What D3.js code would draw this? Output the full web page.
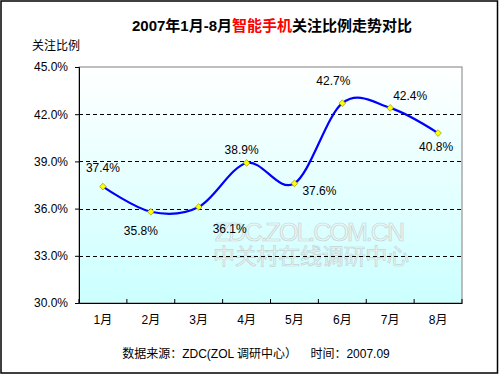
<!DOCTYPE html>
<html><head><meta charset="utf-8">
<script src="https://cdn.jsdelivr.net/npm/d3@7/dist/d3.min.js"></script>
<style>body{margin:0;background:#fff}svg{display:block}</style>
</head><body>
<svg id="c" width="500" height="375"></svg>
<script>
const months = ["1月","2月","3月","4月","5月","6月","7月","8月"];
const values = [37.4, 35.8, 36.1, 38.9, 37.6, 42.7, 42.4, 40.8];
const yTicks = [30, 33, 36, 39, 42, 45];
const labelDx = [0, -10, 31, -5, 25, -9, 20, -2];
const labelDy = [-15, 23, 26, -9, 12, -18, -8, 18];

const F = "'Liberation Sans', Arial, 'Noto Sans CJK SC', sans-serif";
const svg = d3.select("#c");
const L = 79, R = 462, T = 67, B = 303;
const x = d3.scaleBand().domain(months).range([L, R]);
const y = d3.scaleLinear().domain([30, 45]).range([B, T]);

const defs = svg.append("defs");
const g = defs.append("linearGradient").attr("id","bg").attr("x1",0).attr("y1",0).attr("x2",0).attr("y2",1);
g.append("stop").attr("offset","0%").attr("stop-color","#ffffff");
g.append("stop").attr("offset","100%").attr("stop-color","#ccffff");

svg.append("rect").attr("x",1).attr("y",1).attr("width",496.5).attr("height",372)
  .attr("fill","#fff").attr("stroke","#000").attr("stroke-width",1.5);

svg.append("rect").attr("x",L).attr("y",T).attr("width",R-L).attr("height",B-T)
  .attr("fill","url(#bg)").attr("stroke","#808080").attr("stroke-width",1);

// watermark
const wm = svg.append("g").attr("fill","#eaf8f8").attr("stroke","#c4d4d4").attr("stroke-width",0.7)
  .attr("font-family",F);
wm.append("text").attr("x",310).attr("y",241).attr("text-anchor","middle").attr("font-size",25)
  .attr("textLength",190).text("ZDC.ZOL.COM.CN");
wm.append("text").attr("x",311).attr("y",264).attr("text-anchor","middle").attr("font-size",22)
  .attr("font-family","'Noto Sans CJK SC', sans-serif").attr("textLength",196).text("中关村在线调研中心");

// grid
svg.append("g").selectAll("line").data(yTicks.filter(d=>d>30 && d<45)).join("line")
  .attr("x1",L).attr("x2",R).attr("y1",d=>Math.round(y(d))+0.5).attr("y2",d=>Math.round(y(d))+0.5)
  .attr("stroke","#000").attr("stroke-dasharray","4,3").attr("stroke-width",1);

// axes
const yAxis = svg.append("g").attr("transform",`translate(${L},0)`)
  .call(d3.axisLeft(y).tickValues(yTicks).tickSize(4).tickFormat(d=>d.toFixed(1)+"%"));
yAxis.select(".domain").attr("stroke","#000");
yAxis.selectAll("text").attr("font-family",F).attr("font-size",12).attr("fill","#000").attr("dx",-4);

const xAxis = svg.append("g").attr("transform",`translate(0,${B})`)
  .call(d3.axisBottom(x).tickSize(0).tickSizeOuter(0));
xAxis.select(".domain").attr("stroke","#000");
xAxis.selectAll("text").attr("font-family",F).attr("font-size",12).attr("fill","#000").attr("dy",18);
svg.append("g").selectAll("line").data(months).join("line")
  .attr("x1",d=>x(d)).attr("x2",d=>x(d)).attr("y1",B).attr("y2",B-4).attr("stroke","#000");
svg.append("line").attr("x1",R).attr("x2",R).attr("y1",B).attr("y2",B-4).attr("stroke","#000");

// line
const line = d3.line().x((d,i)=>x(months[i])+x.bandwidth()/2).y(d=>y(d)).curve(d3.curveCatmullRom.alpha(0));
svg.append("path").datum(values).attr("d",line).attr("fill","none").attr("stroke","#0000ff").attr("stroke-width",2.2);

svg.append("g").selectAll("path").data(values).join("path")
  .attr("transform",(d,i)=>`translate(${x(months[i])+x.bandwidth()/2},${y(d)})`)
  .attr("d",d3.symbol(d3.symbolDiamond2,28)).attr("fill","#ffff00").attr("stroke","#808000").attr("stroke-width",0.6);

svg.append("g").selectAll("text").data(values).join("text")
  .attr("x",(d,i)=>x(months[i])+x.bandwidth()/2+labelDx[i])
  .attr("y",(d,i)=>y(d)+labelDy[i])
  .attr("text-anchor","middle").attr("font-family",F).attr("font-size",12).attr("fill","#000")
  .text(d=>d.toFixed(1)+"%");

// titles
const title = svg.append("text").attr("x",272).attr("y",31).attr("text-anchor","middle")
  .attr("font-family",F).attr("font-size",15).attr("font-weight","bold");
title.append("tspan").attr("fill","#000").text("2007年1月-8月");
title.append("tspan").attr("fill","#ff0000").text("智能手机");
title.append("tspan").attr("fill","#000").text("关注比例走势对比");

svg.append("text").attr("x",32).attr("y",50).attr("font-family",F).attr("font-size",12).text("关注比例");
svg.append("text").attr("x",256).attr("y",358).attr("text-anchor","middle").attr("font-family",F)
  .attr("font-size",12).attr("xml:space","preserve").text("数据来源：ZDC(ZOL 调研中心）    时间：2007.09");
</script>
</body></html>
